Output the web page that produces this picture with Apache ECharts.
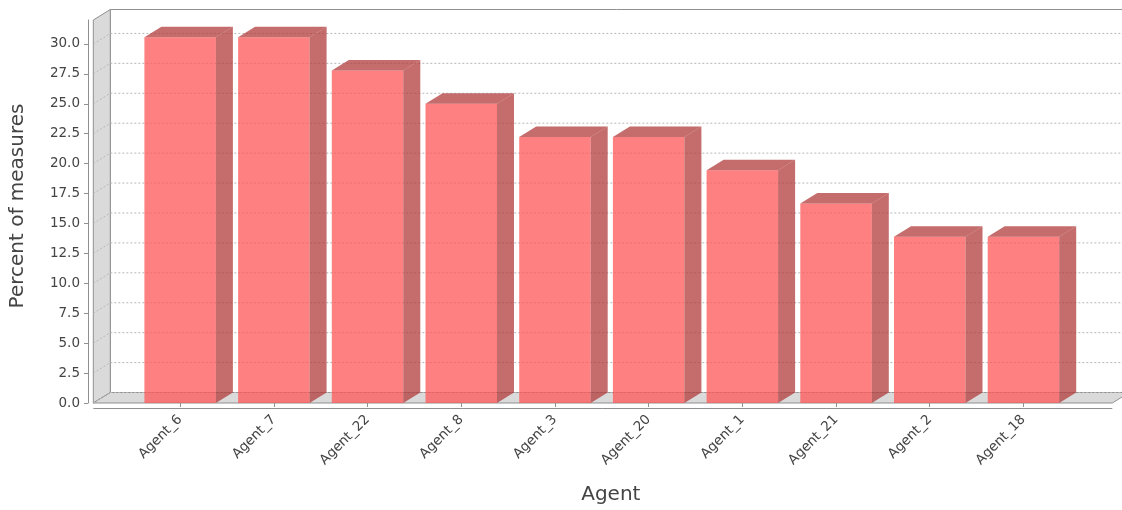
<!DOCTYPE html>
<html>
<head>
<meta charset="utf-8">
<script src="https://cdn.jsdelivr.net/npm/echarts@6/dist/echarts.min.js"></script>
<style>
  html, body { margin: 0; padding: 0; background: #fff; }
  #chart { width: 1122px; height: 510px; }
</style>
</head>
<body>
<div id="chart"></div>
<script>
// Share of measures per agent
const agents = ['Agent_6', 'Agent_7', 'Agent_22', 'Agent_8', 'Agent_3', 'Agent_20', 'Agent_1', 'Agent_21', 'Agent_2', 'Agent_18'];
const percents = [30.56, 30.56, 27.78, 25.0, 22.22, 22.22, 19.44, 16.67, 13.89, 13.89];
const yTicks = [0, 2.5, 5, 7.5, 10, 12.5, 15, 17.5, 20, 22.5, 25, 27.5, 30];

// 3D depth offset (pixels) shared by walls and bars
const DX = 17, DY = -10.5;
// front plane reaches a bit past the category band on each side
const PAD_L = 40, PAD_R = 42;
const BAR_RATIO = 0.763;

const FONT = 'DejaVu Sans';
const TEXT = '#444';
const WALL = '#dadada';
const EDGE = '#909090';
const GRID = '#b8b8b8';

function renderFrame(params, api) {
  const cs = params.coordSys;
  const xl = cs.x - PAD_L, xr = cs.x + cs.width + PAD_R;
  const yb = api.coord([0, 0])[1];
  const yt = cs.y;
  const children = [];
  // back wall
  children.push({ type: 'polygon', shape: { points: [[xl + DX, yt + DY], [xr + DX, yt + DY], [xr + DX, yb + DY], [xl + DX, yb + DY]] },
    style: { fill: '#fff', stroke: EDGE, lineWidth: 1 } });
  // left wall
  children.push({ type: 'polygon', shape: { points: [[xl, yb], [xl, yt], [xl + DX, yt + DY], [xl + DX, yb + DY]] },
    style: { fill: WALL, stroke: EDGE, lineWidth: 1 } });
  // floor
  children.push({ type: 'polygon', shape: { points: [[xl, yb], [xl + DX, yb + DY], [xr + DX, yb + DY], [xr, yb]] },
    style: { fill: WALL, stroke: EDGE, lineWidth: 1 } });
  // gridlines: diagonal on the left wall, then across the back wall
  yTicks.forEach(function (v) {
    const y = api.coord([0, v])[1];
    children.push({ type: 'polyline', shape: { points: [[xl, y], [xl + DX, y + DY], [xr + DX, y + DY]] },
      style: { fill: null, stroke: GRID, lineWidth: 1, lineDash: [2, 2] } });
  });
  // category axis line, set just below the floor
  children.push({ type: 'line', shape: { x1: xl, y1: yb + 5.5, x2: xr, y2: yb + 5.5 },
    style: { stroke: EDGE, lineWidth: 1 } });
  return { type: 'group', children: children };
}

function renderBar(params, api) {
  const cat = api.value(0);
  const top = api.coord([cat, api.value(1)]);
  const base = api.coord([cat, 0]);
  const w = api.size([1, 0])[0] * BAR_RATIO;
  const x0 = top[0] - w / 2, x1 = top[0] + w / 2;
  const yT = top[1], yB = base[1];
  const front = 'rgba(255,85,85,0.75)';
  const dark = 'rgba(178,59,59,0.75)';
  return {
    type: 'group',
    children: [
      { type: 'rect', shape: { x: x0, y: yT, width: w, height: yB - yT }, style: { fill: front } },
      { type: 'polygon', shape: { points: [[x0, yT], [x0 + DX, yT + DY], [x1 + DX, yT + DY], [x1, yT]] }, style: { fill: dark } },
      { type: 'polygon', shape: { points: [[x1, yT], [x1 + DX, yT + DY], [x1 + DX, yB + DY], [x1, yB]] }, style: { fill: dark } }
    ]
  };
}

const chart = echarts.init(document.getElementById('chart'), null, { renderer: 'canvas' });
chart.setOption({
  animation: false,
  backgroundColor: '#fff',
  grid: { left: 126.8, right: 51.7, top: 20, bottom: 107, containLabel: false },
  xAxis: {
    type: 'category',
    data: agents,
    offset: 5.5,
    axisLine: { show: false },
    axisTick: { show: true, alignWithLabel: true, length: 4, lineStyle: { color: EDGE } },
    axisLabel: { rotate: 45, margin: 9, fontFamily: FONT, fontSize: 13.5, color: TEXT },
    splitLine: { show: false },
    name: 'Agent',
    nameLocation: 'middle',
    nameGap: 76,
    nameTextStyle: { fontFamily: FONT, fontSize: 20, color: TEXT, padding: [0, 0, 0, 18] }
  },
  yAxis: {
    type: 'value',
    min: 0,
    max: 32,
    interval: 2.5,
    offset: 45.3,
    axisLine: { show: true, lineStyle: { color: EDGE } },
    axisTick: { show: true, length: 4, customValues: yTicks, lineStyle: { color: EDGE } },
    axisLabel: { customValues: yTicks, margin: 8, fontFamily: FONT, fontSize: 13.5, color: TEXT,
      formatter: function (v) { return v.toFixed(1); } },
    splitLine: { show: false },
    name: 'Percent of measures',
    nameLocation: 'middle',
    nameGap: 60,
    nameTextStyle: { fontFamily: FONT, fontSize: 20, color: TEXT, padding: [0, 0, 0, 11] }
  },
  series: [
    { type: 'custom', renderItem: renderFrame, data: [[0, 0]], clip: false, silent: true, z: 1 },
    { type: 'custom', renderItem: renderBar, data: agents.map(function (a, i) { return [i, percents[i]]; }), clip: false, z: 2 }
  ]
});
</script>
</body>
</html>
